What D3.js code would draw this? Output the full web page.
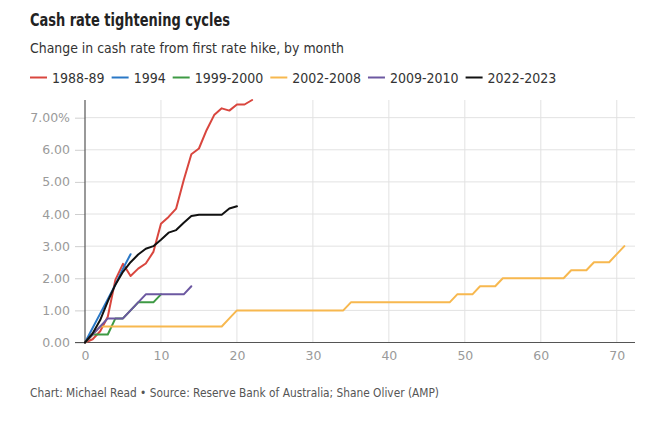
<!DOCTYPE html>
<html>
<head>
<meta charset="utf-8">
<script src="https://cdn.jsdelivr.net/npm/d3@7"></script>
<style>
  html, body { margin: 0; padding: 0; background: #fff; }
  svg { display: block; }
  text { font-family: "DejaVu Sans Condensed", "Liberation Sans Narrow", Roboto, sans-serif; }
</style>
</head>
<body>
<svg id="chart" width="657" height="421"></svg>
<script>
// ---- data ----
const seriesNames = ["1988-89", "1994", "1999-2000", "2002-2008", "2009-2010", "2022-2023"];
const seriesColors = ["#d9463e", "#2a78c6", "#3e9a44", "#f7b84f", "#6c58a1", "#111111"];

const r1988 = [0, 0.1, 0.35, 0.8, 1.95, 2.45, 2.07, 2.3, 2.46, 2.82, 3.7, 3.91, 4.17, 5.06, 5.86, 6.04, 6.61, 7.08, 7.29, 7.22, 7.41, 7.41, 7.55];
const r1994 = [0, 0.45, 0.9, 1.35, 1.8, 2.3, 2.75];
const r1999 = [0, 0.25, 0.25, 0.25, 0.75, 0.75, 1.0, 1.25, 1.25, 1.25, 1.5];
const r2002 = [0, 0.25, 0.5, 0.5, 0.5, 0.5, 0.5, 0.5, 0.5, 0.5, 0.5, 0.5, 0.5, 0.5, 0.5, 0.5, 0.5, 0.5, 0.5, 0.75,
               1.0, 1.0, 1.0, 1.0, 1.0, 1.0, 1.0, 1.0, 1.0, 1.0, 1.0, 1.0, 1.0, 1.0, 1.0, 1.25, 1.25, 1.25, 1.25, 1.25,
               1.25, 1.25, 1.25, 1.25, 1.25, 1.25, 1.25, 1.25, 1.25, 1.5, 1.5, 1.5, 1.75, 1.75, 1.75, 2.0, 2.0, 2.0, 2.0, 2.0,
               2.0, 2.0, 2.0, 2.0, 2.25, 2.25, 2.25, 2.5, 2.5, 2.5, 2.75, 3.0];
const r2009 = [0, 0.25, 0.5, 0.75, 0.75, 0.75, 1.0, 1.25, 1.5, 1.5, 1.5, 1.5, 1.5, 1.5, 1.75];
const r2022 = [0, 0.28, 0.7, 1.28, 1.8, 2.2, 2.5, 2.74, 2.92, 3.0, 3.2, 3.42, 3.5, 3.73, 3.94, 3.98, 3.98, 3.98, 3.98, 4.17, 4.24];

const xTicks = [0, 10, 20, 30, 40, 50, 60, 70];
const yTicks = [0, 1, 2, 3, 4, 5, 6, 7];
const yTickLabels = ["0.00", "1.00", "2.00", "3.00", "4.00", "5.00", "6.00", "7.00%"];

const title = "Cash rate tightening cycles";
const subtitle = "Change in cash rate from first rate hike, by month";
const footer = "Chart: Michael Read \u2022 Source: Reserve Bank of Australia; Shane Oliver (AMP)";

// ---- drawing ----
const allSeries = [r1988, r1994, r1999, r2002, r2009, r2022];
const svg = d3.select("#chart");

const x = d3.scaleLinear().domain([0, 72.4]).range([85, 635]);
const y = d3.scaleLinear().domain([0, 7.55]).range([342.5, 100]);

svg.append("text").attr("x", 30).attr("y", 26)
  .attr("font-size", 17).attr("font-weight", "bold").attr("fill", "#222")
  .attr("textLength", 200).attr("lengthAdjust", "spacingAndGlyphs").text(title);
svg.append("text").attr("x", 30).attr("y", 53)
  .attr("font-size", 14).attr("fill", "#333")
  .attr("textLength", 314).attr("lengthAdjust", "spacingAndGlyphs").text(subtitle);

// legend
const legend = svg.append("g");
let lx = 30;
seriesNames.forEach((name, i) => {
  const g = legend.append("g").attr("transform", `translate(${lx},0)`);
  g.append("line").attr("x1", 0).attr("x2", 17).attr("y1", 77.5).attr("y2", 77.5)
    .attr("stroke", seriesColors[i]).attr("stroke-width", 2);
  const t = g.append("text").attr("x", 22).attr("y", 83).attr("font-size", 14).attr("fill", "#333").text(name);
  lx += 22 + t.node().getComputedTextLength() + 7;
});

// grid
const grid = svg.append("g");
grid.selectAll(".hg").data(yTicks.filter(d => d > 0)).join("line")
  .attr("x1", x(0)).attr("x2", x(72.4)).attr("y1", d => y(d)).attr("y2", d => y(d))
  .attr("stroke", "#e2e2e2").attr("stroke-width", 1);
grid.selectAll(".vg").data(xTicks.filter(d => d > 0)).join("line")
  .attr("x1", d => x(d)).attr("x2", d => x(d)).attr("y1", y(7.55)).attr("y2", y(0))
  .attr("stroke", "#e2e2e2").attr("stroke-width", 1);

// y axis
const yAxis = d3.axisLeft(y).tickValues(yTicks).tickFormat((d, i) => yTickLabels[i]).tickSize(10).tickPadding(5);
const ya = svg.append("g").attr("transform", `translate(${x(0)},0)`).call(yAxis);
ya.select(".domain").remove();
ya.selectAll(".tick line").attr("stroke", "#cfcfcf");
ya.selectAll(".tick text").attr("font-size", 12.5).attr("fill", "#9a9a9a")
  .style("font-family", "'DejaVu Sans', sans-serif");

// x axis
const xAxis = d3.axisBottom(x).tickValues(xTicks).tickSize(0).tickPadding(9);
const xa = svg.append("g").attr("transform", `translate(0,${y(0)})`).call(xAxis);
xa.select(".domain").remove();
xa.selectAll(".tick text").attr("font-size", 12.5).attr("fill", "#9a9a9a")
  .style("font-family", "'DejaVu Sans', sans-serif");

// axis lines
svg.append("line").attr("x1", x(0)).attr("x2", x(0)).attr("y1", y(7.55)).attr("y2", y(0))
  .attr("stroke", "#555").attr("stroke-width", 1.2);
svg.append("line").attr("x1", 75).attr("x2", x(72.4)).attr("y1", y(0)).attr("y2", y(0))
  .attr("stroke", "#555").attr("stroke-width", 1.2);

// lines
const line = d3.line().x((d, i) => x(i)).y(d => y(d));
svg.append("g").selectAll("path").data(allSeries).join("path")
  .attr("d", d => line(d)).attr("fill", "none")
  .attr("stroke", (d, i) => seriesColors[i]).attr("stroke-width", 2)
  .attr("stroke-linejoin", "round").attr("stroke-linecap", "round");

// footer
svg.append("text").attr("x", 30).attr("y", 397)
  .attr("font-size", 13).attr("fill", "#555")
  .attr("textLength", 409).attr("lengthAdjust", "spacingAndGlyphs").text(footer);
</script>
</body>
</html>
